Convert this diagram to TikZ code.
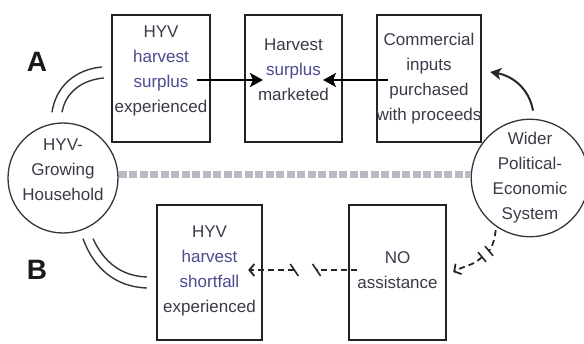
\documentclass[tikz,border=0pt]{standalone}
\usepackage{fontspec}
\setmainfont{Liberation Sans}
\usetikzlibrary{arrows.meta,calc}

\definecolor{ink}{HTML}{3A3A48}
\definecolor{inkblue}{HTML}{4A4A8E}
\definecolor{frame}{HTML}{222222}
\definecolor{bandgray}{HTML}{B9B9C3}

\tikzset{
  stepbox/.style={draw=frame, line width=2.4pt, minimum width=#1,
    inner sep=0pt, rectangle},
  txt/.style={text=ink, align=center, inner sep=0pt,
    font=\fontsize{17}{25}\selectfont},
  hub/.style={circle, draw=ink!90!black, line width=1.3pt, minimum size=110pt,
    inner sep=0pt, text=ink, align=center, font=\fontsize{17}{25}\selectfont},
  caselabel/.style={text=black!90, font=\fontsize{28}{28}\selectfont\bfseries},
  flow/.style={line width=2.6pt, draw=black,
    -{Stealth[length=13pt,width=14pt,inset=3pt]}},
  feedback/.style={line width=2pt, draw=black!85,
    -{Stealth[length=11pt,width=12pt,inset=3pt]}},
  twin/.style={line width=1.4pt, draw=ink!90!black},
  dashed link/.style={line width=1.8pt, draw=black!85, dash pattern=on 6pt off 4pt},
  barb/.style={-{Straight Barb[length=5pt,width=12pt]}},
  breakmark/.style={line width=1.6pt, draw=black!85},
  band/.style={line width=7pt, draw=bandgray, dash pattern=on 8pt off 2.5pt}
}

\begin{document}
\begin{tikzpicture}[x=1pt,y=1pt]
  \useasboundingbox (0,0) rectangle (584,343);

  % upper row: surplus case
  \node[stepbox=98pt, minimum height=127pt] (b1) at (161,264.5) {};
  \node[stepbox=97pt, minimum height=127pt] (b2) at (293.5,264.5) {};
  \node[stepbox=104pt, minimum height=127pt] (b3) at (429,264.5) {};
  \node[txt] (b1t) at ([yshift=8]b1.center)
    {HYV\\\textcolor{inkblue}{harvest}\\\textcolor{inkblue}{surplus}\\experienced};
  \node[txt] (b2t) at ([yshift=9]b2.center)
    {Harvest\\\textcolor{inkblue}{surplus}\\marketed};
  \node[txt] (b3t) at ([yshift=0]b3.center)
    {Commercial\\inputs\\purchased\\with proceeds};

  % lower row: shortfall case
  \node[stepbox=105pt, minimum height=135pt] (b4) at (209.5,70.5) {};
  \node[stepbox=97pt, minimum height=135pt] (b5) at (397.5,70.5) {};
  \node[txt] (b4t) at ([yshift=1.5]b4.center)
    {HYV\\\textcolor{inkblue}{harvest}\\\textcolor{inkblue}{shortfall}\\experienced};
  \node[txt] (b5t) at ([yshift=2.5]b5.center) {NO\\assistance};

  % the two actors
  \node[hub] (hh) at (63,165) {};
  \node[txt] (hht) at ([yshift=8]hh.center) {HYV-\\Growing\\Household};
  \node[hub] (ws) at (530,165) {Wider\\Political-\\Economic\\System};

  % dividing band
  \draw[band] ([yshift=3]hh.east) -- ([yshift=3]ws.west);

  % case labels
  \node[caselabel] (lA) at (37,281) {A};
  \node[caselabel] (lB) at (37,73) {B};

  % case A connectors
  \draw[twin] ([shift={(-11,10)}]hh.north) to[out=82,in=185] ([shift={(-9,11.5)}]b1.west);
  \draw[twin] ([shift={(-1,10)}]hh.north) to[out=80,in=185] ([shift={(-7,0.5)}]b1.west);
  \draw[flow] ([shift={(36,-1.5)}]b1.center) -- ([shift={(-30.5,-1.5)}]b2.center);
  \draw[flow] ([shift={(-41,-1.5)}]b3.center) -- ([shift={(29.5,-1.5)}]b2.center);
  \draw[feedback] ([shift={(3,8)}]ws.north) to[out=100,in=-10] ([shift={(8,6.5)}]b3.east);

  % case B connectors
  \draw[twin] ([shift={(20,-5)}]hh.south) to[out=-70,in=178] ([shift={(-9,-15.5)}]b4.west);
  \draw[twin] ([shift={(30,-5)}]hh.south) to[out=-65,in=178] ([shift={(-9,-4.5)}]b4.west);

  % broken link: no assistance reaches the household
  \coordinate (nR) at ([shift={(9,2.5)}]b5.west);
  \coordinate (nL) at ([shift={(-15,2.5)}]b4.east);
  \coordinate (cutR) at ($(nR)!0.37!(nL)$);
  \coordinate (cutL) at ($(nR)!0.575!(nL)$);
  \draw[dashed link] (nR) -- (cutR);
  \draw[dashed link, barb] (cutL) -- (nL);
  \draw[breakmark] ([shift={(-4,6)}]cutR) -- ([shift={(4,-6)}]cutR);
  \draw[breakmark] ([shift={(-4,6)}]cutL) -- ([shift={(4,-6)}]cutL);

  % broken link: the wider system gives no assistance
  \coordinate (sW) at ([shift={(-1,-3)}]ws.-124);
  \coordinate (tipW) at ([shift={(6,0.5)}]b5.east);
  \coordinate (gA) at (489,92);
  \coordinate (gB) at (482,86);
  \draw[dashed link] (sW) to[out=-100,in=55] (gA);
  \draw[dashed link, barb] (gB) to[out=-135,in=30] (tipW);
  \draw[breakmark] ([shift={(-4,4.8)}]gA) -- ([shift={(4,-4.8)}]gA);
  \draw[breakmark] ([shift={(-4,4.8)}]gB) -- ([shift={(4,-4.8)}]gB);
\end{tikzpicture}
\end{document}
